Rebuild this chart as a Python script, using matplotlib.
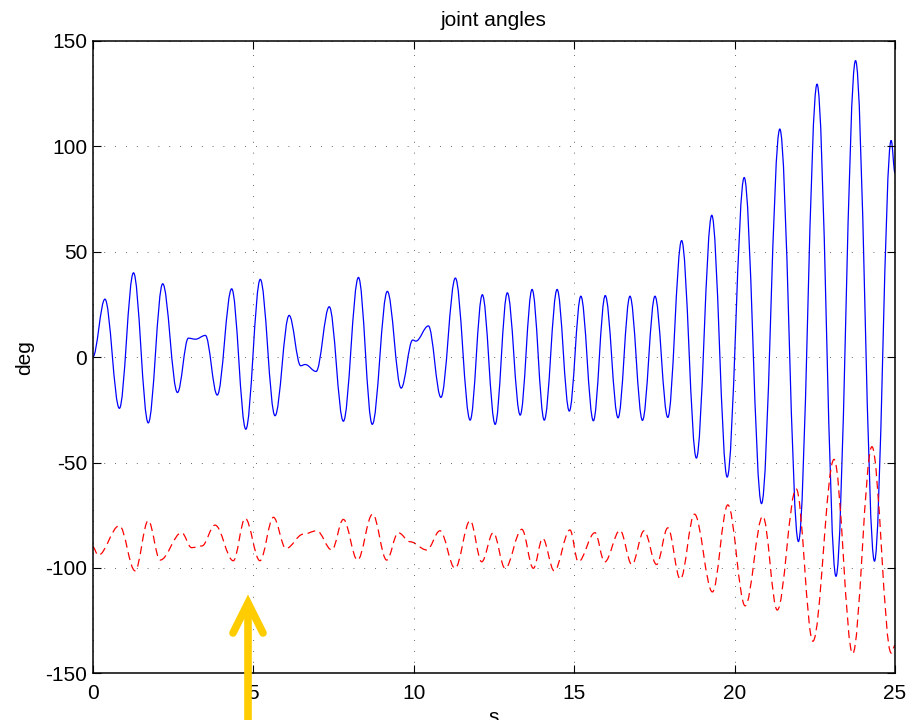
import matplotlib
matplotlib.use("Agg")
import matplotlib.pyplot as plt
from matplotlib.path import Path
from matplotlib.patches import PathPatch
from matplotlib.lines import Line2D

plt.rcParams["font.family"] = ["Liberation Sans", "DejaVu Sans"]
plt.rcParams["axes.unicode_minus"] = False

# ── joint 1 (blue): turning points, time [s] / angle [deg] ────────────────────
j1_t = [0.00, 0.38, 0.83, 1.27, 1.73, 2.18, 2.64, 2.98, 3.20, 3.51, 3.88, 4.33,
        4.77, 5.22, 5.68, 6.12, 6.48, 6.62, 6.96, 7.37, 7.81, 8.28, 8.71, 9.18,
        9.61, 9.97, 10.07, 10.46, 10.85, 11.30, 11.76, 12.14, 12.54, 12.92,
        13.32, 13.69, 14.07, 14.47, 14.85, 15.21, 15.60, 15.97, 16.37, 16.74,
        17.13, 17.52, 17.92, 18.35, 18.81, 19.29, 19.77, 20.30, 20.84, 21.41,
        21.99, 22.57, 23.16, 23.77, 24.36, 24.88, 25.00]
j1_deg = [0.0, 27.5, -24.3, 40.0, -31.2, 34.8, -16.8, 9.0, 8.5, 10.3, -18.0, 32.4,
          -34.2, 36.9, -27.8, 19.8, -4.1, -3.5, -6.8, 23.9, -30.4, 37.8, -31.9, 31.2,
          -14.7, 8.1, 7.6, 14.8, -19.1, 37.5, -29.9, 29.6, -31.9, 30.5,
          -27.5, 32.1, -29.9, 32.1, -25.6, 28.9, -30.2, 29.2, -28.8, 28.9,
          -30.0, 28.9, -28.6, 55.3, -47.9, 67.3, -56.9, 85.2, -69.5, 108.2,
          -87.5, 129.5, -104.0, 140.7, -96.8, 102.8, 87.3]

# ── joint 2 (red, dashed) ─────────────────────────────────────────────────────
j2_t = [0.00, 0.17, 0.83, 1.32, 1.73, 2.10, 2.77, 3.08, 3.40, 3.81, 4.38, 4.75,
        5.21, 5.63, 6.02, 6.56, 6.98, 7.45, 7.81, 8.25, 8.72, 9.16, 9.52, 9.89,
        10.41, 10.82, 11.29, 11.76, 12.12, 12.48, 12.85, 13.37, 13.73, 14.02,
        14.38, 14.87, 15.13, 15.65, 15.95, 16.43, 16.80, 17.18, 17.57, 17.92,
        18.31, 18.75, 19.31, 19.79, 20.33, 20.88, 21.33, 21.92, 22.44, 23.10,
        23.68, 24.28, 24.88, 25.00]
j2_deg = [-90.0, -94.0, -80.0, -101.4, -77.6, -96.3, -83.3, -90.4, -89.6, -79.7, -96.6, -76.5,
          -96.6, -76.0, -90.8, -84.0, -82.4, -91.5, -77.0, -96.3, -74.5, -96.3, -83.3, -87.6,
          -91.5, -82.4, -100.2, -77.6, -97.1, -83.3, -100.2, -81.7, -100.2, -86.0,
          -101.4, -82.0, -97.1, -83.3, -97.2, -82.2, -98.4, -82.4, -98.4, -81.0,
          -105.4, -74.5, -111.4, -70.1, -118.0, -75.5, -120.0, -62.5, -134.8, -48.5,
          -140.7, -42.5, -140.4, -136.8]


def smooth_path(ts, vs, k=0.364):
    """Cubic Bezier through the turning points, flat tangent at each one."""
    verts = [(ts[0], vs[0])]
    codes = [Path.MOVETO]
    for (t0, v0), (t1, v1) in zip(zip(ts[:-1], vs[:-1]), zip(ts[1:], vs[1:])):
        dt = t1 - t0
        verts += [(t0 + k * dt, v0), (t1 - k * dt, v1), (t1, v1)]
        codes += [Path.CURVE4] * 3
    return Path(verts, codes)


fig = plt.figure(figsize=(9.21, 7.2), dpi=100)
ax = fig.add_axes([0.1007, 0.0649, 0.8711, 0.8782])

ax.add_patch(PathPatch(smooth_path(j1_t, j1_deg), fill=False,
                       edgecolor="#0000ff", lw=0.9))
ax.add_patch(PathPatch(smooth_path(j2_t, j2_deg), fill=False,
                       edgecolor="#ff0000", lw=0.9, linestyle=(0, (6.4, 3.8))))

ax.set_xlim(0, 25)
ax.set_ylim(-150, 150)
ax.set_xticks([0, 5, 10, 15, 20, 25])
ax.set_yticks([-150, -100, -50, 0, 50, 100, 150])
ax.grid(True, color="#333333", lw=0.6, linestyle=(0, (1, 12)))
ax.tick_params(direction="in", length=6, width=0.8, labelsize=15,
               top=True, right=True)
ax.tick_params(axis="x", pad=8)
ax.tick_params(axis="y", pad=4)
for sp in ax.spines.values():
    sp.set_linewidth(1.1)

ax.set_title("joint angles", fontsize=15, pad=11)
ax.set_xlabel("s", fontsize=15, labelpad=3)
ax.set_ylabel("deg", fontsize=15, labelpad=8)

# yellow marker arrow below the axes at t ≈ 4.8 s
W, H = 921.0, 720.0
gold = "#ffcc00"
shaft = Line2D([248 / W, 248 / W], [0.0, 1 - 606 / H], transform=fig.transFigure,
               color=gold, lw=5.5, solid_capstyle="butt", clip_on=False)
head = Line2D([233 / W, 248 / W, 263 / W], [1 - 633 / H, 1 - 603 / H, 1 - 633 / H],
              transform=fig.transFigure, color=gold, lw=5.5,
              solid_capstyle="round", solid_joinstyle="miter", clip_on=False)
fig.add_artist(shaft)
fig.add_artist(head)

fig.savefig("out.png", dpi=100)
